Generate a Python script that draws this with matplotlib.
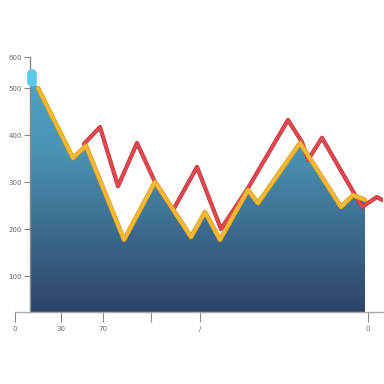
import numpy as np
import matplotlib.pyplot as plt
from matplotlib.colors import LinearSegmentedColormap

# area / yellow series (x in chart units, y in value units)
area_x = [0, 8, 43, 56, 94, 125, 161, 175, 190, 218, 228, 270, 311, 323, 335]
area_y = [528, 500, 351, 377, 177, 300, 183, 236, 177, 283, 255, 383, 247, 272, 262]

yellow_x = area_x[1:]
yellow_y = area_y[1:]

# red series
red_x = [54, 70, 88, 107, 125, 143, 167, 191, 218, 258, 272, 278, 292, 332, 347, 352]
red_y = [381, 417, 291, 383, 300, 240, 332, 200, 287, 432, 385, 347, 394, 247, 268, 262]

y_ticks = [100, 200, 300, 400, 500, 565]
y_labels = ["100", "200", "300", "400", "500", "600"]
x_ticks = [-15, 31, 73, 121, 170, 338]
x_labels = ["0", "30", "70", "", "/", "0"]

fig = plt.figure(figsize=(3.84, 3.84), dpi=100)
ax = fig.add_axes([15 / 384, 1 - 312 / 384, 368 / 384, 255 / 384])
ax.set_xlim(-15, 353)
ax.set_ylim(23.4, 566)

# gradient filled area
poly = ax.fill_between(area_x, area_y, 23.4, color="none", lw=0)
cmap = LinearSegmentedColormap.from_list("g", ["#2f4468", "#3b6a8e", "#4a93b3", "#4fa3c4"])
grad = np.linspace(0, 1, 256).reshape(-1, 1)
im = ax.imshow(grad, aspect="auto", cmap=cmap, origin="lower",
               extent=[0, 335, 23.4, 530], zorder=1)
im.set_clip_path(poly.get_paths()[0], transform=ax.transData)

# cyan cap at top left of area
ax.plot([2, 2], [512, 530], color="#5cc8ea", lw=7, solid_capstyle="round", zorder=3)

# red line with a darker shade below
ax.plot(red_x, red_y, color="#b83038", lw=3.0, solid_joinstyle="round",
        solid_capstyle="round", zorder=3)
ax.plot(red_x, red_y, color="#e2484e", lw=2.1, solid_joinstyle="round",
        solid_capstyle="round", zorder=3)

# yellow line
ax.plot(yellow_x, yellow_y, color="#d99a1e", lw=3.4, solid_joinstyle="round",
        solid_capstyle="round", zorder=4)
ax.plot(yellow_x, yellow_y, color="#f7b933", lw=2.4, solid_joinstyle="round",
        solid_capstyle="round", zorder=4)

for s in ["top", "right"]:
    ax.spines[s].set_visible(False)
ax.spines["left"].set_position(("data", 0))
ax.spines["left"].set_color("#888888")
ax.spines["bottom"].set_color("#aaaaaa")
ax.spines["left"].set_linewidth(1)
ax.spines["bottom"].set_linewidth(1)

ax.set_yticks(y_ticks)
ax.set_yticklabels(y_labels)
ax.set_xticks(x_ticks)
ax.set_xticklabels(x_labels)
ax.tick_params(axis="y", length=4, color="#888888", labelsize=5, labelcolor="#666666", pad=2)
ax.tick_params(axis="x", length=7, color="#888888", labelsize=5, labelcolor="#666666", pad=3)

fig.savefig("out.png", dpi=100)
